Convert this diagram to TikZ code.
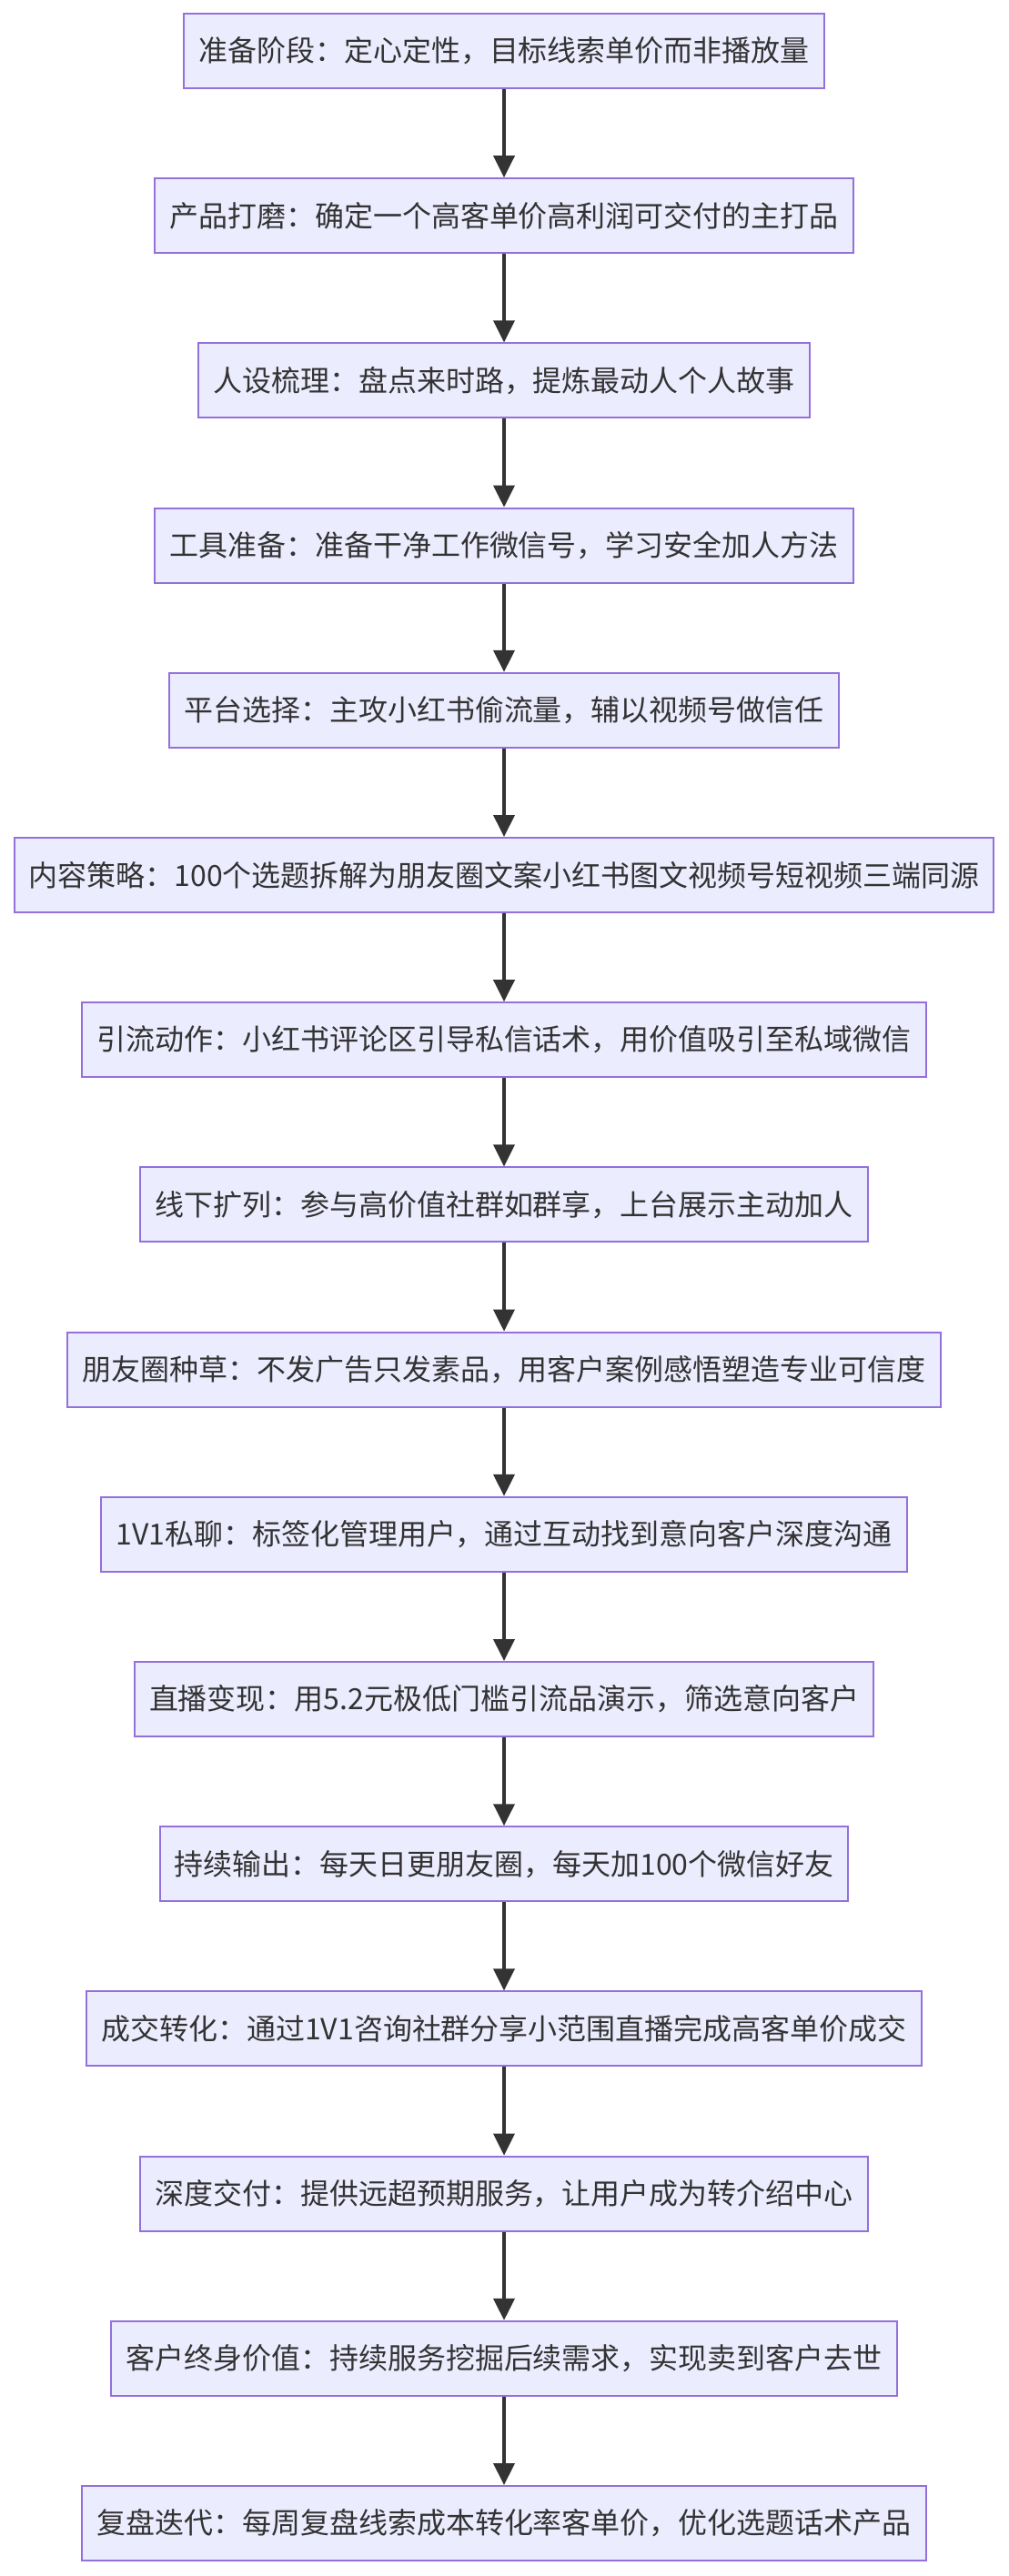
\documentclass[tikz,border=0pt]{standalone}
\usepackage{fontspec}
\newfontfamily\cjk{Noto Sans CJK SC}
\usepackage{xcolor}
\usepackage{tikz}
\usetikzlibrary{arrows.meta, positioning}
\definecolor{boxfill}{HTML}{ECECFF}
\definecolor{boxline}{HTML}{9370DB}
\definecolor{ink}{HTML}{333333}

\begin{document}
\begin{tikzpicture}[
  font={\cjk\fontsize{18.2}{22}\selectfont},
  >=Triangle,
  box/.style={draw=boxline,fill=boxfill,text=ink,line width=1.1pt,align=center,minimum height=1.64cm,inner xsep=0.32cm,inner ysep=0pt},
  arr/.style={-{Triangle[length=0.48cm,width=0.46cm]},draw=ink,fill=ink,line width=2.1pt}
]
\useasboundingbox (0,0) rectangle (22.16,-56.64);

\node[box] (prep) at (11.08,-1.12) {准备阶段：定心定性，目标线索单价而非播放量};
\node[box] (product) at (11.08,-4.744) {产品打磨：确定一个高客单价高利润可交付的主打品};
\node[box] (persona) at (11.08,-8.368) {人设梳理：盘点来时路，提炼最动人个人故事};
\node[box] (tools) at (11.08,-11.992) {工具准备：准备干净工作微信号，学习安全加人方法};
\node[box] (platform) at (11.08,-15.616) {平台选择：主攻小红书偷流量，辅以视频号做信任};
\node[box] (content) at (11.08,-19.24) {内容策略：100个选题拆解为朋友圈文案小红书图文视频号短视频三端同源};
\node[box] (traffic) at (11.08,-22.864) {引流动作：小红书评论区引导私信话术，用价值吸引至私域微信};
\node[box] (offline) at (11.08,-26.488) {线下扩列：参与高价值社群如群享，上台展示主动加人};
\node[box] (moments) at (11.08,-30.112) {朋友圈种草：不发广告只发素品，用客户案例感悟塑造专业可信度};
\node[box] (chat) at (11.08,-33.736) {1V1私聊：标签化管理用户，通过互动找到意向客户深度沟通};
\node[box] (live) at (11.08,-37.36) {直播变现：用5.2元极低门槛引流品演示，筛选意向客户};
\node[box] (output) at (11.08,-40.984) {持续输出：每天日更朋友圈，每天加100个微信好友};
\node[box] (deal) at (11.08,-44.608) {成交转化：通过1V1咨询社群分享小范围直播完成高客单价成交};
\node[box] (delivery) at (11.08,-48.232) {深度交付：提供远超预期服务，让用户成为转介绍中心};
\node[box] (ltv) at (11.08,-51.856) {客户终身价值：持续服务挖掘后续需求，实现卖到客户去世};
\node[box] (review) at (11.08,-55.48) {复盘迭代：每周复盘线索成本转化率客单价，优化选题话术产品};

\draw[arr] (prep) -- (product);
\draw[arr] (product) -- (persona);
\draw[arr] (persona) -- (tools);
\draw[arr] (tools) -- (platform);
\draw[arr] (platform) -- (content);
\draw[arr] (content) -- (traffic);
\draw[arr] (traffic) -- (offline);
\draw[arr] (offline) -- (moments);
\draw[arr] (moments) -- (chat);
\draw[arr] (chat) -- (live);
\draw[arr] (live) -- (output);
\draw[arr] (output) -- (deal);
\draw[arr] (deal) -- (delivery);
\draw[arr] (delivery) -- (ltv);
\draw[arr] (ltv) -- (review);
\end{tikzpicture}
\end{document}
